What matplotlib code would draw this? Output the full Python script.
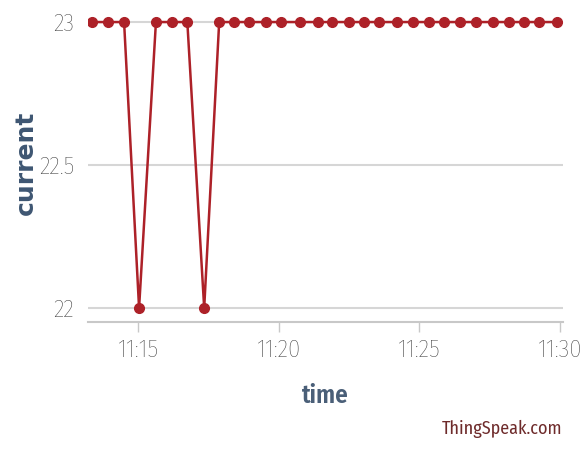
import datetime as dt
import matplotlib
matplotlib.use("Agg")
import matplotlib.pyplot as plt
import matplotlib.dates as mdates

# data (timestamps h:m:s, current)
times = ["11:13:22", "11:13:56", "11:14:30", "11:15:02", "11:15:38", "11:16:13",
         "11:16:45", "11:17:21", "11:17:53", "11:18:25", "11:18:57", "11:19:33",
         "11:20:05", "11:20:46", "11:21:25", "11:21:54", "11:22:30", "11:23:03",
         "11:23:35", "11:24:13", "11:24:47", "11:25:21", "11:25:53", "11:26:28",
         "11:27:02", "11:27:38", "11:28:12", "11:28:44", "11:29:16", "11:29:55"]
current = [23, 23, 23, 22, 23, 23, 23, 22, 23, 23, 23, 23, 23, 23, 23,
           23, 23, 23, 23, 23, 23, 23, 23, 23, 23, 23, 23, 23, 23, 23]
y_ticks = [22, 22.5, 23]
y_labels = ["22", "22.5", "23"]
x_ticks = ["11:15", "11:20", "11:25", "11:30"]

day = "2017-01-01 "
t = [dt.datetime.strptime(day + s, "%Y-%m-%d %H:%M:%S") for s in times]
xt = [dt.datetime.strptime(day + s, "%Y-%m-%d %H:%M") for s in x_ticks]

narrow = ["Fira Sans Condensed", "Barlow Condensed", "DejaVu Sans"]

fig = plt.figure(figsize=(5.84, 4.5), dpi=100)
ax = fig.add_axes([0.1507, 0.2844, 0.8134, 0.6933])

ax.plot(t, current, color="#ad2128", linewidth=1.8, marker="o",
        markersize=7, markerfacecolor="#ad2128", markeredgecolor="#ad2128", zorder=3)

ax.set_xlim(dt.datetime.strptime(day + "11:13:13", "%Y-%m-%d %H:%M:%S"),
            dt.datetime.strptime(day + "11:30:07", "%Y-%m-%d %H:%M:%S"))
ax.set_ylim(21.951, 23.042)

ax.set_yticks(y_ticks)
ax.set_yticklabels(y_labels)
ax.set_xticks(xt)
ax.xaxis.set_major_formatter(mdates.DateFormatter("%H:%M"))

for sp in ["top", "right", "left"]:
    ax.spines[sp].set_visible(False)
ax.spines["bottom"].set_color("#c8c8c8")
ax.spines["bottom"].set_linewidth(1.5)

ax.grid(axis="y", color="#d6d6d6", linewidth=1.5)
ax.set_axisbelow(True)

ax.tick_params(axis="y", length=0, pad=10, labelsize=18, labelcolor="#3a3a3a")
ax.tick_params(axis="x", length=7, width=1, color="#c8c8c8", pad=5,
               labelsize=18, labelcolor="#3a3a3a")
for lbl in ax.get_xticklabels() + ax.get_yticklabels():
    lbl.set_family(narrow)
    lbl.set_fontweight("light")

ax.set_xlabel("time", family=narrow, fontsize=18, fontweight="semibold",
              color="#4a5f78", labelpad=16)
fig.text(0.045, 0.638, "current", rotation=90, ha="center", va="center",
         family="DejaVu Sans", fontsize=18, fontweight="bold", color="#3e5672")

fig.text(0.962, 0.047, "ThingSpeak.com", ha="right", va="center",
         family=narrow, fontsize=13, color="#6e2b2b")

fig.savefig("out.png", dpi=100, facecolor="white")
